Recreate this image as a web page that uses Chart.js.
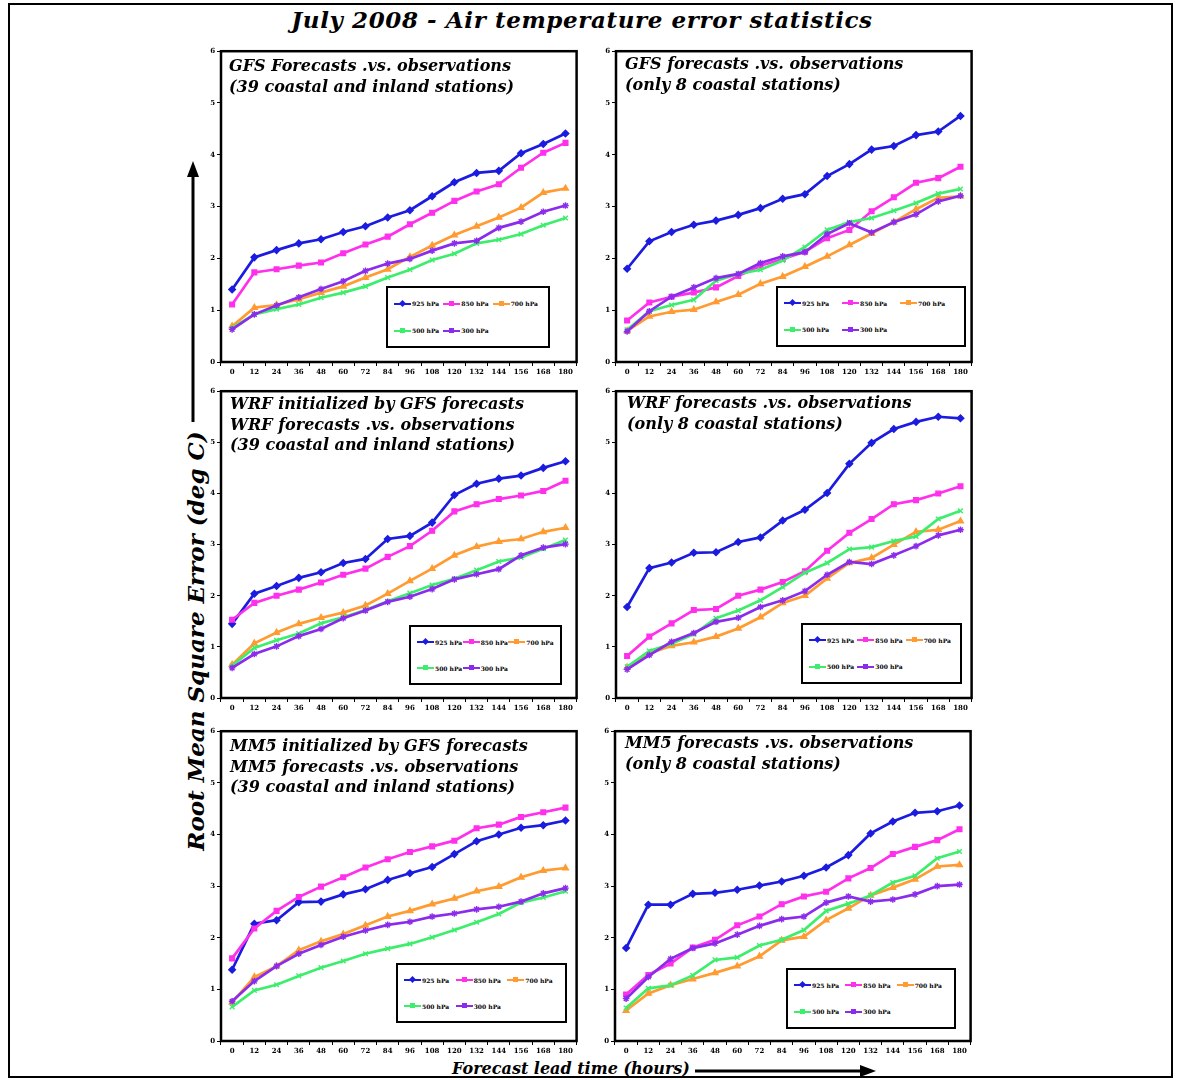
<!DOCTYPE html>
<html>
<head>
<meta charset="utf-8">
<script src="https://cdn.jsdelivr.net/npm/chart.js@4.4.1/dist/chart.umd.min.js"></script>
<style>
body { margin: 0; background: #fff; }
#page { position: relative; width: 1180px; height: 1080px; overflow: hidden; font-family: 'DejaVu Serif', serif; }
.frame { position: absolute; left: 8px; top: 3px; width: 1161px; height: 1071px; border: 2px solid #000; }
.panel { position: absolute; }
.ptitle { position: absolute; font: italic bold 16px 'DejaVu Serif', serif; line-height: 20.5px; white-space: nowrap; color: #000; }
.legend { position: absolute; box-sizing: border-box; border: 2px solid #000; background: #fff;
  display: grid; grid-template-columns: 1fr 1fr 1fr; grid-template-rows: 1fr 1fr; padding: 2px 6px; align-items: center; }
.item { display: flex; align-items: center; font: bold 6px 'DejaVu Serif', serif; white-space: nowrap; }
.swatch { position: relative; width: 17px; height: 2px; margin-right: 1px; }
.swatch i { position: absolute; left: 6px; top: -2px; width: 5px; height: 5px; }
#title { position: absolute; left: 0; width: 1164px; top: 6px; text-align: center; font: italic bold 23px 'DejaVu Serif', serif; letter-spacing: 0.6px; }
#ytitle { position: absolute; left: 195px; top: 641px; transform: translate(-50%, -50%) rotate(-90deg); font: italic bold 23px 'DejaVu Serif', serif; white-space: nowrap; }
#xtitle { position: absolute; left: 452px; top: 1059px; font: italic bold 16px 'DejaVu Serif', serif; white-space: nowrap; }
svg { position: absolute; left: 0; top: 0; }
</style>
</head>
<body>
<div id="page">
  <div class="frame"></div>
  <div id="title">July 2008 - Air temperature error statistics</div>
  <div id="ytitle">Root Mean Square Error (deg C)</div>
  <div id="xtitle">Forecast lead time (hours)</div>
  <svg width="1180" height="1080">
    <rect x="191.5" y="174" width="3" height="248" fill="#000"/>
    <polygon points="193,161 187,177 199,177" fill="#000"/>
    <rect x="695" y="1069.5" width="168" height="3" fill="#000"/>
    <polygon points="876,1071 860,1065 860,1077" fill="#000"/>
  </svg>
</div>
<script>
const hours = ['0', '12', '24', '36', '48', '60', '72', '84', '96', '108', '120', '132', '144', '156', '168', '180'];
const levels = ['925 hPa', '850 hPa', '700 hPa', '500 hPa', '300 hPa'];

// GFS, 39 coastal and inland stations
const gfs39_925 = [1.40, 2.02, 2.16, 2.29, 2.37, 2.51, 2.62, 2.79, 2.93, 3.20, 3.47, 3.65, 3.69, 4.03, 4.21, 4.41];
const gfs39_850 = [1.11, 1.73, 1.79, 1.86, 1.92, 2.10, 2.27, 2.42, 2.66, 2.88, 3.11, 3.29, 3.43, 3.75, 4.04, 4.23];
const gfs39_700 = [0.69, 1.05, 1.10, 1.21, 1.34, 1.46, 1.63, 1.79, 2.03, 2.25, 2.45, 2.62, 2.79, 2.98, 3.27, 3.35];
const gfs39_500 = [0.66, 0.92, 1.02, 1.11, 1.24, 1.34, 1.46, 1.63, 1.78, 1.97, 2.09, 2.29, 2.36, 2.47, 2.64, 2.78];
const gfs39_300 = [0.63, 0.92, 1.09, 1.25, 1.41, 1.56, 1.76, 1.90, 1.99, 2.15, 2.29, 2.34, 2.59, 2.71, 2.90, 3.02];

// GFS, 8 coastal stations
const gfs8_925 = [1.80, 2.33, 2.51, 2.65, 2.73, 2.84, 2.97, 3.15, 3.24, 3.59, 3.82, 4.10, 4.17, 4.38, 4.45, 4.75];
const gfs8_850 = [0.80, 1.15, 1.26, 1.34, 1.44, 1.66, 1.86, 1.99, 2.13, 2.39, 2.55, 2.91, 3.18, 3.46, 3.55, 3.77];
const gfs8_700 = [0.60, 0.88, 0.97, 1.01, 1.16, 1.30, 1.51, 1.65, 1.84, 2.04, 2.26, 2.48, 2.70, 2.95, 3.17, 3.20];
const gfs8_500 = [0.62, 0.98, 1.10, 1.20, 1.57, 1.70, 1.78, 1.96, 2.22, 2.55, 2.70, 2.78, 2.92, 3.07, 3.25, 3.34];
const gfs8_300 = [0.59, 0.98, 1.26, 1.44, 1.62, 1.70, 1.91, 2.04, 2.12, 2.47, 2.68, 2.50, 2.70, 2.85, 3.10, 3.21];

// WRF, 39 stations
const wrf39_925 = [1.45, 2.04, 2.19, 2.35, 2.46, 2.64, 2.72, 3.11, 3.17, 3.43, 3.97, 4.19, 4.29, 4.35, 4.50, 4.63];
const wrf39_850 = [1.53, 1.86, 2.00, 2.12, 2.26, 2.41, 2.53, 2.76, 2.97, 3.27, 3.65, 3.79, 3.89, 3.96, 4.05, 4.25];
const wrf39_700 = [0.65, 1.07, 1.28, 1.45, 1.57, 1.67, 1.81, 2.04, 2.29, 2.53, 2.79, 2.96, 3.06, 3.11, 3.25, 3.33];
const wrf39_500 = [0.63, 0.98, 1.13, 1.26, 1.46, 1.58, 1.72, 1.89, 2.05, 2.21, 2.33, 2.50, 2.67, 2.75, 2.92, 3.09];
const wrf39_300 = [0.59, 0.86, 1.01, 1.21, 1.35, 1.56, 1.71, 1.88, 1.98, 2.13, 2.32, 2.42, 2.52, 2.79, 2.94, 3.01];

// WRF, 8 coastal stations
const wrf8_925 = [1.78, 2.54, 2.65, 2.84, 2.85, 3.05, 3.14, 3.47, 3.68, 4.01, 4.58, 4.99, 5.26, 5.40, 5.50, 5.47];
const wrf8_850 = [0.82, 1.20, 1.46, 1.72, 1.74, 2.00, 2.12, 2.27, 2.48, 2.88, 3.23, 3.50, 3.79, 3.87, 4.00, 4.14];
const wrf8_700 = [0.60, 0.87, 1.02, 1.09, 1.20, 1.36, 1.58, 1.86, 2.00, 2.34, 2.64, 2.74, 3.00, 3.25, 3.29, 3.46];
const wrf8_500 = [0.61, 0.92, 1.06, 1.25, 1.56, 1.71, 1.91, 2.17, 2.45, 2.64, 2.91, 2.95, 3.07, 3.16, 3.50, 3.66];
const wrf8_300 = [0.56, 0.84, 1.10, 1.27, 1.49, 1.57, 1.78, 1.91, 2.09, 2.41, 2.66, 2.62, 2.79, 2.97, 3.18, 3.29];

// MM5, 39 stations
const mm539_925 = [1.38, 2.27, 2.34, 2.69, 2.70, 2.84, 2.94, 3.12, 3.25, 3.37, 3.62, 3.87, 4.00, 4.13, 4.18, 4.27];
const mm539_850 = [1.60, 2.18, 2.52, 2.79, 2.99, 3.17, 3.36, 3.52, 3.66, 3.77, 3.88, 4.12, 4.19, 4.34, 4.43, 4.52];
const mm539_700 = [0.75, 1.24, 1.45, 1.76, 1.93, 2.07, 2.24, 2.41, 2.52, 2.65, 2.76, 2.90, 2.99, 3.17, 3.30, 3.35];
const mm539_500 = [0.66, 0.98, 1.09, 1.26, 1.42, 1.55, 1.69, 1.79, 1.88, 2.01, 2.15, 2.30, 2.46, 2.68, 2.78, 2.90];
const mm539_300 = [0.77, 1.16, 1.45, 1.69, 1.86, 2.02, 2.14, 2.25, 2.31, 2.41, 2.47, 2.55, 2.60, 2.70, 2.86, 2.96];

// MM5, 8 coastal stations
const mm58_925 = [1.80, 2.64, 2.64, 2.85, 2.87, 2.93, 3.01, 3.09, 3.20, 3.36, 3.60, 4.02, 4.25, 4.42, 4.45, 4.56];
const mm58_850 = [0.90, 1.28, 1.50, 1.81, 1.96, 2.24, 2.41, 2.65, 2.80, 2.89, 3.15, 3.35, 3.62, 3.76, 3.89, 4.10];
const mm58_700 = [0.59, 0.92, 1.08, 1.20, 1.32, 1.45, 1.64, 1.95, 2.02, 2.34, 2.57, 2.82, 2.97, 3.13, 3.38, 3.41];
const mm58_500 = [0.64, 1.02, 1.08, 1.27, 1.57, 1.62, 1.85, 1.96, 2.15, 2.52, 2.66, 2.82, 3.07, 3.20, 3.54, 3.67];
const mm58_300 = [0.82, 1.24, 1.59, 1.80, 1.89, 2.06, 2.23, 2.36, 2.41, 2.68, 2.80, 2.70, 2.74, 2.84, 3.00, 3.03];

const colors = ['#1c1ce0', '#ff30ec', '#ff9b30', '#3ded6c', '#8b2cec'];
const markers = ['rectRot', 'rect', 'triangle', 'crossRot', 'star'];

const panels = [
    { box: [221, 49, 578, 362], titleAt: [229, 56], legend: [386, 286, 550, 348],
      title: ['GFS Forecasts .vs. observations', '(39 coastal and inland stations)'],
      series: [gfs39_925, gfs39_850, gfs39_700, gfs39_500, gfs39_300] },
    { box: [616, 49, 973, 362], titleAt: [625, 54], legend: [776, 286, 966, 347],
      title: ['GFS forecasts .vs. observations', '(only 8 coastal stations)'],
      series: [gfs8_925, gfs8_850, gfs8_700, gfs8_500, gfs8_300] },
    { box: [221, 389, 578, 698], titleAt: [230, 394], legend: [409, 625, 562, 685],
      title: ['WRF initialized by GFS forecasts', 'WRF forecasts .vs. observations', '(39 coastal and inland stations)'],
      series: [wrf39_925, wrf39_850, wrf39_700, wrf39_500, wrf39_300] },
    { box: [616, 389, 973, 698], titleAt: [627, 393], legend: [801, 623, 962, 684],
      title: ['WRF forecasts .vs. observations', '(only 8 coastal stations)'],
      series: [wrf8_925, wrf8_850, wrf8_700, wrf8_500, wrf8_300] },
    { box: [221, 729, 578, 1041], titleAt: [230, 736], legend: [396, 963, 567, 1023],
      title: ['MM5 initialized by GFS forecasts', 'MM5 forecasts .vs. observations', '(39 coastal and inland stations)'],
      series: [mm539_925, mm539_850, mm539_700, mm539_500, mm539_300] },
    { box: [615, 729, 972, 1041], titleAt: [625, 733], legend: [786, 968, 956, 1029],
      title: ['MM5 forecasts .vs. observations', '(only 8 coastal stations)'],
      series: [mm58_925, mm58_850, mm58_700, mm58_500, mm58_300] }
];

const YW = 16, XH = 16, PT = 4, PR = 4;
const tickFont = { family: 'DejaVu Serif', size: 7, weight: 'bold' };

const boxPlugin = {
    id: 'box',
    afterDraw(chart) {
        const a = chart.chartArea, ctx = chart.ctx;
        ctx.save();
        ctx.strokeStyle = '#000';
        ctx.lineWidth = 2.5;
        ctx.strokeRect(a.left, a.top, a.right - a.left, a.bottom - a.top);
        ctx.restore();
    }
};

const page = document.getElementById('page');

panels.forEach(p => {
    const [L, T, R, B] = p.box;
    const w = R - L + YW + PR, h = B - T + PT + XH;
    const div = document.createElement('div');
    div.className = 'panel';
    div.style.left = (L - YW) + 'px';
    div.style.top = (T - PT) + 'px';
    div.style.width = w + 'px';
    div.style.height = h + 'px';
    const cv = document.createElement('canvas');
    cv.width = w; cv.height = h;
    div.appendChild(cv);
    page.appendChild(div);

    new Chart(cv, {
        type: 'line',
        data: {
            labels: hours,
            datasets: p.series.map((s, i) => ({
                label: levels[i],
                data: s,
                borderColor: colors[i],
                backgroundColor: colors[i],
                borderWidth: 2.7,
                pointStyle: markers[i],
                pointRadius: 3.3,
                pointBorderWidth: 1.4,
                tension: 0,
                order: 5 - i
            }))
        },
        options: {
            responsive: false,
            animation: false,
            devicePixelRatio: 1,
            layout: { padding: { top: PT, right: PR, left: 0, bottom: 0 } },
            plugins: { legend: { display: false }, tooltip: { enabled: false } },
            scales: {
                x: {
                    offset: true,
                    grid: { offset: true, drawOnChartArea: false, tickLength: 4, color: '#000' },
                    border: { display: false },
                    ticks: { font: tickFont, color: '#000', maxRotation: 0, autoSkip: false, padding: 2 },
                    afterFit: s => { s.height = XH; }
                },
                y: {
                    min: 0, max: 6,
                    grid: { drawOnChartArea: false, tickLength: 4, color: '#000' },
                    border: { display: false },
                    ticks: { stepSize: 1, font: tickFont, color: '#000', padding: 2 },
                    afterFit: s => { s.width = YW; }
                }
            }
        },
        plugins: [boxPlugin]
    });

    const t = document.createElement('div');
    t.className = 'ptitle';
    t.style.left = p.titleAt[0] + 'px';
    t.style.top = p.titleAt[1] + 'px';
    t.innerHTML = p.title.join('<br>');
    page.appendChild(t);

    const [lx, ly, lr, lb] = p.legend;
    const lg = document.createElement('div');
    lg.className = 'legend';
    lg.style.left = lx + 'px';
    lg.style.top = ly + 'px';
    lg.style.width = (lr - lx) + 'px';
    lg.style.height = (lb - ly) + 'px';
    levels.forEach((name, i) => {
        const it = document.createElement('div');
        it.className = 'item';
        const sw = document.createElement('span');
        sw.className = 'swatch';
        sw.style.background = colors[i];
        const mk = document.createElement('i');
        mk.style.background = colors[i];
        if (markers[i] === 'rectRot') mk.style.transform = 'rotate(45deg)';
        sw.appendChild(mk);
        it.appendChild(sw);
        it.appendChild(document.createTextNode(name));
        lg.appendChild(it);
    });
    page.appendChild(lg);
});
</script>
</body>
</html>
